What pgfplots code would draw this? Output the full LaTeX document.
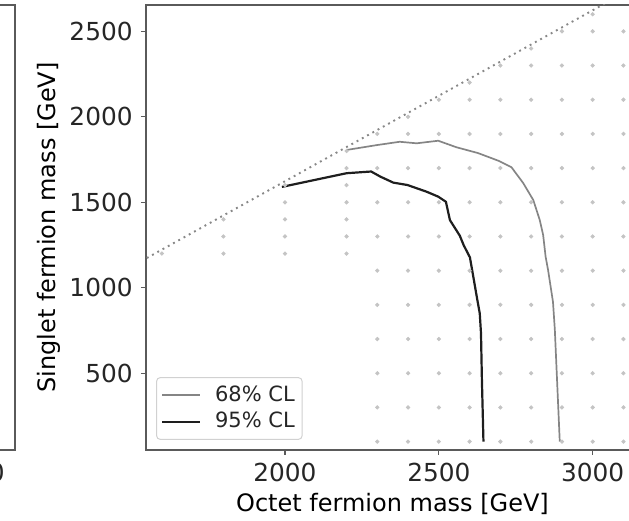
\documentclass[border=0pt]{standalone}
\usepackage{fontspec}
\setmainfont{DejaVu Sans}
\usepackage{pgfplots}
\pgfplotsset{compat=1.18}
\definecolor{framegray}{HTML}{5A5A5A}
\definecolor{dotgray}{HTML}{C4C4C4}
\definecolor{diaggray}{HTML}{888888}
\definecolor{clsixtyeight}{HTML}{858585}
\definecolor{clninetyfive}{HTML}{1E1E1E}
\begin{document}
\fontsize{12}{14}\selectfont
\begin{tikzpicture}
\useasboundingbox (0,0) rectangle (314.5pt,260.5pt);
\clip (0,0) rectangle (314.5pt,260.5pt);
\pgfplotsset{
  every axis/.append style={
    scale only axis,
    axis line style={framegray, line width=0.7pt},
    tick style={framegray, line width=0.6pt},
    tick align=outside,
    major tick length=2.5pt,
    xtick pos=bottom, ytick pos=left,
    /pgf/number format/1000 sep={},
    /pgf/number format/assume math mode=true,
    tick label style={font=\fontsize{12.4}{14}\selectfont, text=black!85},
    label style={font=\fontsize{12.8}{15}\selectfont, text=black!85},
  }
}
% cropped neighbouring panel
\begin{axis}[at={(7.5pt,35.5pt)}, anchor=south east, width=150pt, height=222.5pt,
  xmin=0, xmax=1, ymin=0, ymax=1, xtick={0.86}, xticklabels={3000}, ytick=\empty]
\end{axis}
\begin{axis}[at={(73pt,35.5pt)}, anchor=south west, width=246.5pt, height=222.5pt,
  xmin=1548.3, xmax=3150.5, ymin=51, ymax=2654,
  xtick={2000,2500,3000}, ytick={500,1000,1500,2000,2500},
  xlabel={Octet fermion mass [GeV]},
  ylabel={Singlet fermion mass [GeV]},
  every axis x label/.style={at={(axis description cs:0.5,-0.121)}, anchor=center},
  every axis y label/.style={at={(axis description cs:-0.1967,0.5)}, rotate=90, anchor=center},
  legend cell align=left,
  legend image code/.code={\draw[#1] (0pt,0pt) -- (19pt,0pt); \path (24.5pt,0pt);},
  legend style={at={(axis description cs:0.0203,0.0225)}, anchor=south west,
    draw=black!18, rounded corners=2pt, line width=0.5pt,
    font=\fontsize{10.5}{12}\selectfont, text=black!85,
    inner xsep=2.2pt, inner ysep=2.5pt, row sep=0.8pt,
    nodes={inner sep=1.5pt}},
]
% scan grid points
\addplot[only marks, mark=*, mark size=0.85pt, color=dotgray, forget plot] coordinates {
(1600,1200)
(1800,1200) (1800,1300) (1800,1400)
(2000,1200) (2000,1300) (2000,1400) (2000,1500) (2000,1600)
(2200,1200) (2200,1300) (2200,1400) (2200,1500) (2200,1600) (2200,1700) (2200,1800)
(2300,100) (2300,300) (2300,500) (2300,700) (2300,900) (2300,1100) (2300,1300) (2300,1500) (2300,1700) (2300,1900)
(2400,100) (2400,300) (2400,500) (2400,700) (2400,900) (2400,1100) (2400,1300) (2400,1500) (2400,1700) (2400,1900) (2400,2000)
(2500,100) (2500,300) (2500,500) (2500,700) (2500,900) (2500,1100) (2500,1300) (2500,1500) (2500,1700) (2500,1900) (2500,2100)
(2600,100) (2600,300) (2600,500) (2600,700) (2600,900) (2600,1100) (2600,1300) (2600,1500) (2600,1700) (2600,1900) (2600,2100) (2600,2200)
(2700,100) (2700,300) (2700,500) (2700,700) (2700,900) (2700,1100) (2700,1300) (2700,1500) (2700,1700) (2700,1900) (2700,2100) (2700,2300)
(2800,100) (2800,300) (2800,500) (2800,700) (2800,900) (2800,1100) (2800,1300) (2800,1500) (2800,1700) (2800,1900) (2800,2100) (2800,2300) (2800,2400)
(2900,100) (2900,300) (2900,500) (2900,700) (2900,900) (2900,1100) (2900,1300) (2900,1500) (2900,1700) (2900,1900) (2900,2100) (2900,2300) (2900,2500)
(3000,100) (3000,300) (3000,500) (3000,700) (3000,900) (3000,1100) (3000,1300) (3000,1500) (3000,1700) (3000,1900) (3000,2100) (3000,2300) (3000,2500) (3000,2600)
(3100,100) (3100,300) (3100,500) (3100,700) (3100,900) (3100,1100) (3100,1300) (3100,1500) (3100,1700) (3100,1900) (3100,2100) (3100,2300) (3100,2500)
};
% kinematic boundary
\addplot[diaggray, line width=0.95pt, dash pattern=on 0.95pt off 2.05pt, forget plot] coordinates {(1500,1123) (3200,2823)};
% 68% CL
\addplot[clsixtyeight, line width=0.85pt] coordinates {
(2200,1806) (2300,1835) (2373,1854) (2428,1845) (2498,1860) (2557,1822) (2627,1788)
(2695,1742) (2736,1705) (2774,1613) (2807,1513) (2828,1396) (2839,1309) (2847,1182)
(2855,1104) (2871,917) (2877,754) (2888,305) (2893,100)
};
\addlegendentry{68\% CL}
% 95% CL
\addplot[clninetyfive, line width=1.1pt] coordinates {
(1990,1590) (2200,1670) (2280,1680) (2310,1650) (2352,1615) (2398,1601) (2460,1562)
(2498,1533) (2523,1503) (2536,1396) (2568,1305) (2581,1248) (2601,1178) (2612,1065)
(2625,930) (2633,850) (2637,735) (2640,460) (2645,100)
};
\addlegendentry{95\% CL}
\end{axis}
\end{tikzpicture}
\end{document}
